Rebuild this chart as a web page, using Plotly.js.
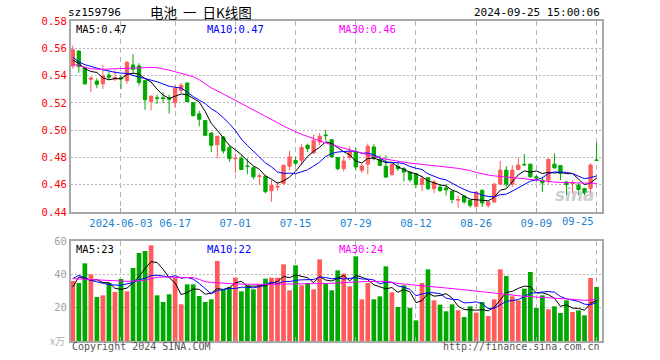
<!DOCTYPE html>
<html><head><meta charset="utf-8">
<script src="https://cdn.plot.ly/plotly-3.0.1.min.js"></script>
<style>html,body{margin:0;padding:0;background:#fff}#c{width:660px;height:360px}</style>
</head><body><div id="c"></div>
<script>
const dates = ["2024-05-22","2024-05-23","2024-05-24","2024-05-27","2024-05-28","2024-05-29","2024-05-30","2024-05-31",
"2024-06-03","2024-06-04","2024-06-05","2024-06-06","2024-06-07","2024-06-11","2024-06-12","2024-06-13","2024-06-14",
"2024-06-17","2024-06-18","2024-06-19","2024-06-20","2024-06-21","2024-06-24","2024-06-25","2024-06-26","2024-06-27","2024-06-28",
"2024-07-01","2024-07-02","2024-07-03","2024-07-04","2024-07-05","2024-07-08","2024-07-09","2024-07-10","2024-07-11","2024-07-12",
"2024-07-15","2024-07-16","2024-07-17","2024-07-18","2024-07-19","2024-07-22","2024-07-23","2024-07-24","2024-07-25","2024-07-26",
"2024-07-29","2024-07-30","2024-07-31","2024-08-01","2024-08-02","2024-08-05","2024-08-06","2024-08-07","2024-08-08","2024-08-09",
"2024-08-12","2024-08-13","2024-08-14","2024-08-15","2024-08-16","2024-08-19","2024-08-20","2024-08-21","2024-08-22","2024-08-23",
"2024-08-26","2024-08-27","2024-08-28","2024-08-29","2024-08-30","2024-09-02","2024-09-03","2024-09-04","2024-09-05","2024-09-06",
"2024-09-09","2024-09-10","2024-09-11","2024-09-12","2024-09-13","2024-09-18","2024-09-19","2024-09-20","2024-09-23","2024-09-24","2024-09-25"];

const open  = [.547,.558,.546,.5373,.536,.534,.5403,.5375,.5385,.5363,
.5478,.5471,.5363,.5211,.5237,.5237,.5235,.5202,.529,.5346,
.5202,.5119,.5071,.4979,.4893,.495,.4872,.479,.4792,.4738,
.4724,.466,.4663,.4556,.4583,.461,.4736,.4777,.478,.4889,
.4833,.4913,.4965,.493,.4799,.4718,.4799,.484,.4706,.475,
.4877,.4784,.4735,.4676,.4735,.4718,.4693,.4681,.4602,.4652,
.4571,.4583,.4576,.4553,.4487,.4518,.4486,.4442,.456,.4449,
.4474,.4604,.4707,.4604,.4712,.4749,.4751,.4658,.4633,.4633,
.4751,.4741,.4621,.4609,.4597,.4572,.4572,.4781];
const high  = [.562,.5585,.5465,.5393,.538,.5478,.543,.544,.5405,.5507,
.5558,.549,.5365,.5252,.526,.5278,.526,.5329,.5346,.5348,
.5205,.5141,.5075,.4982,.4957,.4955,.489,.4828,.4816,.4792,
.4731,.4682,.4665,.4634,.4622,.4745,.4848,.4804,.4896,.4901,
.4969,.4979,.5003,.4934,.4801,.4809,.4882,.487,.4755,.4902,
.4897,.4816,.4816,.476,.476,.473,.4698,.4686,.4669,.4656,
.4637,.4603,.4607,.4555,.4521,.452,.4488,.4552,.4562,.4476,
.4614,.4775,.4736,.4744,.48,.4825,.4753,.467,.4658,.4793,
.483,.4743,.4625,.4633,.4614,.4577,.4756,.491];
const low   = [.545,.542,.533,.528,.5307,.5302,.5368,.536,.530,.5341,
.5417,.5327,.5149,.5144,.5193,.520,.5122,.5163,.5268,.5205,
.510,.5027,.4955,.484,.4792,.4828,.4767,.4687,.4707,.4677,
.4639,.4597,.4537,.4476,.4556,.4597,.4707,.4743,.4743,.484,
.4828,.4889,.4925,.4799,.4706,.4698,.4784,.4706,.4686,.4676,
.4779,.4735,.4652,.4664,.4701,.4625,.462,.4575,.4553,.4563,
.4539,.4546,.4521,.4465,.4431,.4461,.4432,.4432,.4437,.4432,
.4466,.4597,.4584,.4584,.4707,.4739,.4653,.4621,.4547,.4609,
.4719,.4633,.4523,.4535,.4523,.4523,.4523,.4779];
const close = [.559,.5466,.534,.5383,.5336,.5397,.5388,.5385,.5375,.5498,
.5446,.5349,.5222,.525,.5234,.5232,.5227,.5305,.5329,.5209,
.5107,.508,.4962,.4889,.4955,.4848,.4792,.4795,.4712,.4734,
.4658,.4665,.4549,.4597,.4588,.4743,.4804,.4758,.4872,.4865,
.4925,.4955,.496,.4804,.4718,.4774,.484,.473,.4737,.4882,
.4791,.4742,.4656,.475,.4718,.4693,.4637,.4602,.4644,.4571,
.462,.4558,.4563,.4492,.4492,.4474,.4449,.4547,.4466,.4474,
.4604,.4707,.4604,.4707,.4744,.4746,.4658,.465,.4614,.4785,
.4724,.4682,.4601,.4616,.4565,.454,.4744,.4779];

const ma5  = [.5512,.549,.545,.543,.5423,.5384,.5369,.5378,.5376,.5409,
.5418,.5411,.5378,.5353,.5300,.5257,.5233,.5250,.5265,.5260,
.5235,.5206,.5137,.5049,.4999,.4947,.4889,.4856,.4820,.4776,
.4738,.4713,.4664,.4641,.4611,.4628,.4656,.4698,.4753,.4808,
.4845,.4875,.4915,.4902,.4872,.4842,.4819,.4773,.4760,.4793,
.4796,.4776,.4762,.4764,.4731,.4712,.4691,.4680,.4659,.4629,
.4615,.4599,.4591,.4561,.4545,.4516,.4494,.4491,.4486,.4482,
.4508,.4560,.4571,.4619,.4673,.4702,.4692,.4701,.4682,.4691,
.4686,.4691,.4681,.4682,.4638,.4601,.4613,.4649];
const ma10 = [.5535,.550,.548,.5465,.5455,.5443,.5432,.5424,.5418,.5416,
.5401,.539,.5378,.5365,.5355,.5338,.5322,.5314,.5309,.528,
.5246,.522,.5194,.5157,.513,.5091,.5048,.4997,.4935,.4888,
.4843,.4801,.476,.4731,.4694,.4683,.4685,.4681,.4697,.471,
.4737,.4766,.4807,.4828,.484,.4844,.4847,.4844,.4831,.4833,
.4819,.4798,.4768,.4762,.4762,.4754,.4734,.4721,.4712,.468,
.4664,.4645,.4636,.461,.4587,.4566,.4547,.4541,.4524,.4514,
.4512,.4527,.4531,.4553,.4578,.4605,.4626,.4636,.4651,.4682,
.4694,.4692,.4691,.4682,.4665,.4644,.4652,.4665];
const ma30 = [.5483,.547,.546,.545,.5445,.5445,.5448,.545,.5452,.5455,
.5457,.546,.546,.546,.5458,.545,.544,.5428,.5417,.5405,
.5392,.537,.5341,.531,.5288,.5265,.5242,.522,.5196,.5172,
.515,.5128,.5104,.508,.5055,.503,.5006,.4988,.497,.4953,
.4937,.4921,.4906,.4893,.488,.487,.4858,.4845,.4832,.482,
.4807,.4795,.4787,.478,.4772,.4765,.4758,.4754,.475,.4745,
.474,.4735,.473,.4725,.472,.4712,.4704,.469,.4678,.4671,
.4665,.4659,.4655,.4652,.4648,.4645,.4641,.4635,.4629,.4622,
.462,.4617,.4615,.4613,.4612,.4611,.461,.461];

const volume = [36,34.8,46.6,40,26.4,27.4,34.8,29.4,37.2,29.8,
43.8,52.8,54,57.4,27.4,23.4,28,38,22,34,
34,27,23.4,25,48,31,32.4,38,29.8,33.4,
31,34,37.4,38,38,46,30.4,45.4,33.4,34.8,
31,49,34.6,30.4,42.4,40.4,32.8,50.8,25,34.8,
25,26.8,44.8,29.2,20.4,33.4,19.8,12.4,34.8,43,
24.4,21.8,17.8,22,18.4,14.4,20.8,17,23.4,15,
25,43,39,26.8,24.4,31.4,41.4,19.8,27.4,19,
20.8,16.8,24.4,17.4,18.4,15.4,37.8,32.4];
const vma5 = [32.4,38.4,37.5,36.4,36.8,35.0,35.0,31.6,31.0,31.7,
35.0,38.6,43.5,47.6,47.1,43.0,38.0,34.8,27.8,29.1,
31.2,31.0,28.1,28.7,31.5,30.9,32.0,34.9,35.8,32.9,
32.9,33.2,33.1,34.8,35.7,38.7,38.0,39.6,38.6,38.0,
35.0,38.7,36.6,36.0,37.5,39.4,36.1,39.4,38.3,36.8,
33.7,32.5,31.3,32.1,29.2,30.9,29.5,23.0,24.2,28.7,
26.9,27.3,28.4,25.8,20.9,18.9,18.7,18.5,18.8,18.1,
20.2,24.7,29.1,29.8,31.6,32.9,32.6,28.8,28.9,27.8,
25.7,20.8,21.7,19.7,19.6,18.5,22.7,24.3];
const vma10 = [37.4,39.4,38.0,36.4,35.5,34.6,33.8,33.6,33.4,34.3,
35.0,36.8,37.6,39.3,39.4,39.0,38.3,39.2,37.7,38.1,
37.1,34.5,31.5,28.3,30.3,31.1,31.5,31.5,32.3,32.2,
31.9,32.6,34.0,35.3,34.3,35.8,35.6,36.4,36.7,36.9,
36.9,38.4,38.1,37.3,37.8,37.2,37.4,38.0,37.2,37.2,
36.6,34.3,35.4,35.2,33.0,32.3,31.0,27.2,28.2,29.0,
28.9,28.4,25.7,25.0,24.8,22.9,23.0,23.5,22.3,19.5,
19.6,21.7,23.8,24.3,24.9,26.6,28.7,29.0,29.4,29.7,
29.3,26.7,25.3,24.3,23.7,22.1,21.8,23.0];
const vma30 = [37.4,37.2,37.0,36.8,36.6,36.4,36.2,36.0,35.9,35.8,
36.0,36.2,36.4,37.4,38.2,38.4,38.4,38.3,38.2,38.1,
38.0,37.0,35.6,35.2,34.9,34.5,34.3,34.2,34.1,34.0,
33.9,33.8,33.9,34.0,34.1,34.2,34.4,34.4,34.4,34.4,
34.4,34.4,34.4,34.6,34.8,35.0,35.3,35.5,35.6,35.7,
35.8,35.8,35.8,35.3,34.5,34.2,33.8,33.4,33.1,32.8,
32.5,32.1,31.8,31.5,31.1,30.8,30.4,30.0,29.5,29.0,
28.4,28.1,27.8,27.4,27.0,26.8,26.6,26.3,26.1,25.9,
25.7,25.5,25.2,25.0,24.7,24.4,24.6,25.0];

const tickDates  = ["2024-06-03","2024-06-17","2024-07-01","2024-07-15","2024-07-29","2024-08-12","2024-08-26","2024-09-09","2024-09-25"];
const tickLabels = ["2024-06-03","06-17","07-01","07-15","07-29","08-12","08-26","09-09","09-25"];
const priceTicks = [0.44,0.46,0.48,0.50,0.52,0.54,0.56,0.58];
const volTicks = [20,40,60];

const RED = '#ff5b5b', GREEN = '#00a800';
const MONO = 'DejaVu Sans Mono';
const TICKBLUE = '#1a7fd0';
const volColors = close.map((c,i)=> c >= open[i] ? RED : GREEN);

const traces = [
  {type:'candlestick', x:dates, open:open, high:high, low:low, close:close, xaxis:'x', yaxis:'y',
   increasing:{line:{color:RED,width:1}, fillcolor:RED},
   decreasing:{line:{color:GREEN,width:1}, fillcolor:GREEN},
   whiskerwidth:0, hoverinfo:'skip'},
  {type:'scatter', mode:'lines', x:dates, y:ma5, line:{color:'#000000',width:1}, xaxis:'x', yaxis:'y', hoverinfo:'skip'},
  {type:'scatter', mode:'lines', x:dates, y:ma10, line:{color:'#0000ff',width:1}, xaxis:'x', yaxis:'y', hoverinfo:'skip'},
  {type:'scatter', mode:'lines', x:dates, y:ma30, line:{color:'#ff00ff',width:1}, xaxis:'x', yaxis:'y', hoverinfo:'skip'},
  {type:'bar', x:dates, y:volume, marker:{color:volColors, line:{width:0}}, xaxis:'x2', yaxis:'y2', hoverinfo:'skip'},
  {type:'scatter', mode:'lines', x:dates, y:vma5, line:{color:'#000000',width:1}, xaxis:'x2', yaxis:'y2', hoverinfo:'skip'},
  {type:'scatter', mode:'lines', x:dates, y:vma10, line:{color:'#0000ff',width:1}, xaxis:'x2', yaxis:'y2', hoverinfo:'skip'},
  {type:'scatter', mode:'lines', x:dates, y:vma30, line:{color:'#ff00ff',width:1}, xaxis:'x2', yaxis:'y2', hoverinfo:'skip'}
];

const gridC = '#b4b4b4', borderC = '#a8a8a8';
const xbase = {type:'category', range:[-0.3, 87.9], tickmode:'array', tickvals:tickDates,
  showgrid:true, gridcolor:gridC, griddash:'5px,4px', gridwidth:1,
  showline:true, mirror:true, linecolor:borderC, linewidth:2,
  ticks:'inside', ticklen:4, tickcolor:borderC, zeroline:false, fixedrange:true};

// last label is drawn shifted left (as in the source chart) via annotation
const shownLabels = tickLabels.map((t,i)=> i === tickLabels.length-1 ? '' : t);

const layout = {
  width:660, height:360, margin:{l:71, r:58, t:21, b:19},
  paper_bgcolor:'#ffffff', plot_bgcolor:'#ffffff', showlegend:false,
  bargap:0.22, boxgap:0.22,
  xaxis: Object.assign({}, xbase, {anchor:'y', ticktext:shownLabels, showticklabels:true,
    tickfont:{family:MONO, size:10.5, color:TICKBLUE}, rangeslider:{visible:false}}),
  xaxis2: Object.assign({}, xbase, {anchor:'y2', ticktext:tickLabels, showticklabels:false, rangeslider:{visible:false}}),
  yaxis: {domain:[0.403,1], range:[0.44,0.58], tickmode:'array', tickvals:priceTicks,
    ticktext:priceTicks.map(v=>v.toFixed(2)), tickfont:{family:MONO, size:10.5, color:'#ff0000'},
    showgrid:true, gridcolor:gridC, griddash:'2px,2px', showline:true, mirror:true,
    linecolor:borderC, linewidth:2, ticks:'', zeroline:false, fixedrange:true},
  yaxis2: {domain:[0,0.3125], range:[0,60], tickmode:'array', tickvals:volTicks,
    tickfont:{family:MONO, size:10.5, color:'#a0a0a0'},
    showgrid:true, gridcolor:gridC, griddash:'2px,2px', showline:true, mirror:true,
    linecolor:borderC, linewidth:2, ticks:'', zeroline:false, fixedrange:true},
  annotations:[
    {text:tickLabels[tickLabels.length-1], xref:'paper', yref:'paper', x:0.988, y:0.375, xanchor:'right', yanchor:'middle', showarrow:false, font:{family:MONO,size:10.5,color:TICKBLUE}},
    {text:'sz159796', xref:'paper', yref:'paper', x:-0.009, y:1.028, xanchor:'left', yanchor:'middle', showarrow:false, font:{family:MONO,size:11,color:'#000'}},
    {text:'电池\u00a0\u00a0一\u00a0\u00a0日K线图', xref:'paper', yref:'paper', x:0.245, y:1.028, xanchor:'center', yanchor:'middle', showarrow:false, font:{family:'Noto Sans CJK SC',size:13.5,color:'#000'}},
    {text:'2024-09-25 15:00:06', xref:'paper', yref:'paper', x:1.0, y:1.028, xanchor:'right', yanchor:'middle', showarrow:false, font:{family:MONO,size:11,color:'#000'}},
    {text:'MA5:0.47', xref:'paper', yref:'paper', x:0.006, y:0.999, xanchor:'left', yanchor:'top', showarrow:false, font:{family:MONO,size:10.5,color:'#000000'}},
    {text:'MA10:0.47', xref:'paper', yref:'paper', x:0.252, y:0.999, xanchor:'left', yanchor:'top', showarrow:false, font:{family:MONO,size:10.5,color:'#0000ff'}},
    {text:'MA30:0.46', xref:'paper', yref:'paper', x:0.501, y:0.999, xanchor:'left', yanchor:'top', showarrow:false, font:{family:MONO,size:10.5,color:'#ff00ff'}},
    {text:'MA5:23', xref:'paper', yref:'paper', x:0.006, y:0.311, xanchor:'left', yanchor:'top', showarrow:false, font:{family:MONO,size:10.5,color:'#000000'}},
    {text:'MA10:22', xref:'paper', yref:'paper', x:0.252, y:0.311, xanchor:'left', yanchor:'top', showarrow:false, font:{family:MONO,size:10.5,color:'#0000ff'}},
    {text:'MA30:24', xref:'paper', yref:'paper', x:0.501, y:0.311, xanchor:'left', yanchor:'top', showarrow:false, font:{family:MONO,size:10.5,color:'#ff00ff'}},
    {text:'x万', xref:'paper', yref:'paper', x:-0.008, y:0.002, xanchor:'right', yanchor:'middle', showarrow:false, font:{family:'Noto Sans CJK SC',size:10,color:'#b0b0b0'}},
    {text:'Copyright 2024 SINA.COM', xref:'paper', yref:'paper', x:-0.002, y:-0.018, xanchor:'left', yanchor:'middle', showarrow:false, font:{family:MONO,size:10,color:'#555555'}},
    {text:'http://finance.sina.com.cn', xref:'paper', yref:'paper', x:1.0, y:-0.018, xanchor:'right', yanchor:'middle', showarrow:false, font:{family:MONO,size:10,color:'#555555'}},
    {text:'<b><i>sina</i></b>', xref:'paper', yref:'paper', x:0.99, y:0.455, xanchor:'right', yanchor:'middle', showarrow:false, font:{family:'DejaVu Sans',size:17,color:'rgba(190,190,190,0.75)'}}
  ]
};

Plotly.newPlot('c', traces, layout, {staticPlot:true, displayModeBar:false});
</script>
</body></html>
